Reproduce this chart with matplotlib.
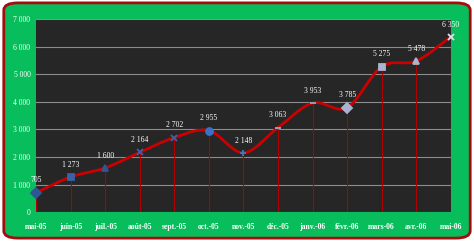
import numpy as np
import matplotlib.pyplot as plt
from matplotlib.patches import FancyBboxPatch

# Donnees
mois = ['mai-05', 'juin-05', 'juil.-05', 'août-05', 'sept.-05', 'oct.-05', 'nov.-05',
        'déc.-05', 'janv.-06', 'févr.-06', 'mars-06', 'avr.-06', 'mai-06']
valeurs = [705, 1273, 1600, 2164, 2702, 2955, 2148, 3063, 3953, 3785, 5275, 5478, 6350]
etiquettes = ['705', '1 273', '1 600', '2 164', '2 702', '2 955', '2 148',
              '3 063', '3 953', '3 785', '5 275', '5 478', '6 350']
marqueurs = ['D', 's', '^', 'x', 'x', 'o', '+', '_', '_', 'D', 's', '^', 'x']
couleurs = ['#2f5597', '#3a62a8', '#2f5597', '#3a62a8', '#3a62a8', '#3a72c8', '#4a72b8',
            '#9aa6c0', '#9aa6c0', '#a8b4d0', '#a8b4d0', '#a8b4d0', '#d8e0f0']

fig = plt.figure(figsize=(4.74, 2.41), dpi=100)
fig.patch.set_facecolor('white')

# Cadre vert arrondi
cadre = FancyBboxPatch((0.008, 0.012), 0.984, 0.976, boxstyle='round,pad=0,rounding_size=0.03',
                       transform=fig.transFigure, facecolor='#08bd5c', edgecolor='#a30d0d',
                       linewidth=2.0, zorder=-1)
fig.patches.append(cadre)

ax = fig.add_axes([0.076, 0.12, 0.875, 0.801])
ax.set_zorder(1)
ax.set_facecolor('#262626')

x = np.arange(len(valeurs))
y = np.array(valeurs, dtype=float)

# courbe lissee (Catmull-Rom)
pts = np.concatenate([[2 * y[0] - y[1]], y, [2 * y[-1] - y[-2]]])
px = np.concatenate([[-1], x, [len(x)]]).astype(float)
xs, ys = [], []
t = np.linspace(0, 1, 20)
for i in range(1, len(pts) - 2):
    for arr, out in ((px, xs), (pts, ys)):
        p0, p1, p2, p3 = arr[i - 1], arr[i], arr[i + 1], arr[i + 2]
        out.extend(0.5 * ((2 * p1) + (-p0 + p2) * t + (2 * p0 - 5 * p1 + 4 * p2 - p3) * t ** 2
                          + (-p0 + 3 * p1 - 3 * p2 + p3) * t ** 3))

# lignes de projection
ax.vlines(x, 0, y, color='#b00000', linewidth=0.8, zorder=2)
ax.plot(xs, ys, color='#cc0000', linewidth=2.0, zorder=3)

for xi, yi, m, c in zip(x, y, marqueurs, couleurs):
    ax.plot(xi, yi, marker=m, color=c, markersize=5, markeredgewidth=1.3,
            markeredgecolor=c, zorder=4, clip_on=False)

for xi, yi, lab in zip(x, y, etiquettes):
    ax.text(xi, yi + 300, lab, color='white', fontsize=5.5, ha='center', va='bottom',
            family='Liberation Serif', zorder=5, clip_on=False)

ax.set_xlim(0, len(valeurs) - 1)
ax.set_ylim(0, 7000)
ax.set_yticks(range(0, 7001, 1000))
ax.set_yticklabels(['0', '1 000', '2 000', '3 000', '4 000', '5 000', '6 000', '7 000'])
ax.set_xticks(x)
ax.set_xticklabels(mois)
ax.grid(axis='y', color='#8c8c8c', linewidth=0.8)
ax.set_axisbelow(True)
ax.tick_params(axis='y', length=0, colors='white', labelsize=5.5, pad=4)
ax.tick_params(axis='x', length=0, colors='white', labelsize=5.5, pad=8)
for lab in ax.get_xticklabels():
    lab.set_family('Liberation Serif')
    lab.set_fontweight('bold')
for lab in ax.get_yticklabels():
    lab.set_family('Liberation Serif')
for s in ax.spines.values():
    s.set_visible(False)

fig.savefig('out.png', dpi=100, facecolor=fig.get_facecolor())
